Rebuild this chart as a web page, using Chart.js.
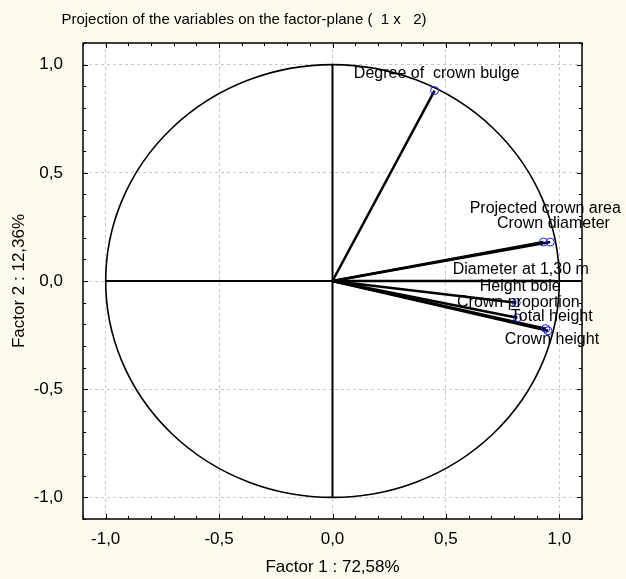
<!DOCTYPE html>
<html>
<head>
<meta charset="utf-8">
<script src="https://cdn.jsdelivr.net/npm/chart.js@4/dist/chart.umd.min.js"></script>
<style>
  html, body { margin: 0; padding: 0; background: #fdf9ee; }
  #wrap { width: 626px; height: 579px; position: relative; }
</style>
</head>
<body>
<div id="wrap"><canvas id="chart" width="626" height="579"></canvas></div>
<script>
// loadings
const variables = ['Degree of  crown bulge', 'Projected crown area', 'Crown diameter',
    'Diameter at 1,30 m', 'Height bole', 'Crown proportion', 'Total height', 'Crown height'];
const factor1 = [0.45, 0.96, 0.93, 0.98, 0.81, 0.815, 0.94, 0.95];
const factor2 = [0.88, 0.18, 0.18, 0.00, -0.10, -0.17, -0.22, -0.23];
const tickValues = [-1, -0.5, 0, 0.5, 1];

const titleText = 'Projection of the variables on the factor-plane (  1 x   2)';
const xTitle = 'Factor 1 : 72,58%';
const yTitle = 'Factor 2 : 12,36%';

// label offsets in pixels from the marker (layout only)
const labelDx = [2, -5, 10, -34, 4, 1, 6, 4];
const labelDy = [-17, -33, -18, -11, -16, -15, -12, 9];

const FONT = "'Liberation Sans', Arial, sans-serif";
const fmt = v => v.toFixed(1).replace('.', ',');

// one line dataset per variable: origin -> loading
const datasets = variables.map((name, i) => ({
    label: name,
    data: [{ x: 0, y: 0 }, { x: factor1[i], y: factor2[i] }],
    showLine: true,
    borderColor: '#000',
    borderWidth: 2.5,
    pointRadius: [0, i === 3 ? 0 : 4],
    pointBorderColor: '#1a1aff',
    pointBackgroundColor: 'rgba(0,0,0,0)',
    pointBorderWidth: 1
}));

const framePlugin = {
    id: 'frame',
    beforeDraw(chart) {
        const { ctx, chartArea: a } = chart;
        ctx.save();
        ctx.fillStyle = '#fdf9ee';
        ctx.fillRect(0, 0, chart.width, chart.height);
        ctx.fillStyle = '#fff';
        ctx.fillRect(a.left, a.top, a.right - a.left, a.bottom - a.top);
        ctx.restore();
    },
    beforeDatasetsDraw(chart) {
        const { ctx, scales: { x, y }, chartArea: a } = chart;
        ctx.save();
        ctx.beginPath();
        ctx.rect(a.left, a.top, a.right - a.left, a.bottom - a.top);
        ctx.clip();
        ctx.strokeStyle = '#000';
        ctx.lineWidth = 1.6;
        // unit circle
        const cx = x.getPixelForValue(0), cy = y.getPixelForValue(0);
        const rx = x.getPixelForValue(1) - cx, ry = cy - y.getPixelForValue(1);
        ctx.beginPath();
        ctx.ellipse(cx, cy, rx, ry, 0, 0, Math.PI * 2);
        ctx.stroke();
        // axes through origin
        ctx.lineWidth = 2;
        ctx.beginPath();
        ctx.moveTo(cx, y.getPixelForValue(1));
        ctx.lineTo(cx, y.getPixelForValue(-1));
        ctx.moveTo(x.getPixelForValue(-1), cy);
        ctx.lineTo(a.right, cy);
        ctx.stroke();
        ctx.restore();
    },
    afterDraw(chart) {
        const { ctx, scales: { x, y }, chartArea: a } = chart;
        ctx.save();
        // frame
        ctx.strokeStyle = '#000';
        ctx.lineWidth = 1.5;
        ctx.strokeRect(a.left, a.top, a.right - a.left, a.bottom - a.top);
        // inward ticks every 0.1
        ctx.lineWidth = 1;
        ctx.beginPath();
        for (let k = -11; k <= 11; k++) {
            const v = k / 10;
            const len = k % 5 === 0 ? 5 : 3;
            const px = Math.round(x.getPixelForValue(v)) + 0.5;
            const py = Math.round(y.getPixelForValue(v)) + 0.5;
            ctx.moveTo(px, a.top); ctx.lineTo(px, a.top + len);
            ctx.moveTo(px, a.bottom); ctx.lineTo(px, a.bottom - len);
            ctx.moveTo(a.left, py); ctx.lineTo(a.left + len, py);
            ctx.moveTo(a.right, py); ctx.lineTo(a.right - len, py);
        }
        ctx.stroke();
        // variable labels
        ctx.fillStyle = '#000';
        ctx.font = '16px ' + FONT;
        ctx.textAlign = 'center';
        ctx.textBaseline = 'middle';
        variables.forEach((name, i) => {
            const px = x.getPixelForValue(factor1[i]);
            const py = y.getPixelForValue(factor2[i]);
            ctx.fillText(name, px + labelDx[i], py + labelDy[i]);
        });
        // title and axis titles
        ctx.font = '15px ' + FONT;
        ctx.fillText(titleText, 244, 20);
        ctx.font = '17px ' + FONT;
        ctx.fillText(xTitle, (a.left + a.right) / 2, 567);
        ctx.translate(19, (a.top + a.bottom) / 2);
        ctx.rotate(-Math.PI / 2);
        ctx.fillText(yTitle, 0, 0);
        ctx.restore();
    }
};

const axisCommon = {
    type: 'linear',
    min: -1.1,
    max: 1.1,
    afterBuildTicks: scale => { scale.ticks = tickValues.map(v => ({ value: v })); },
    grid: {
        color: '#c8c8c8',
        lineWidth: 1,
        drawTicks: false
    },
    border: { display: false, dash: [3, 3] },
    ticks: {
        color: '#000',
        font: { family: FONT, size: 17 },
        callback: v => fmt(v)
    }
};

new Chart(document.getElementById('chart'), {
    type: 'scatter',
    data: { datasets },
    options: {
        responsive: false,
        animation: false,
        layout: { padding: { top: 43, right: 44, left: 0, bottom: 0 } },
        plugins: { legend: { display: false }, tooltip: { enabled: false }, title: { display: false } },
        scales: {
            x: Object.assign({}, axisCommon, {
                ticks: Object.assign({}, axisCommon.ticks, { padding: 10, maxRotation: 0 }),
                afterFit: s => { s.height = 60; }
            }),
            y: Object.assign({}, axisCommon, {
                ticks: Object.assign({}, axisCommon.ticks, { padding: 20 }),
                afterFit: s => { s.width = 83; }
            })
        }
    },
    plugins: [framePlugin]
});
</script>
</body>
</html>
